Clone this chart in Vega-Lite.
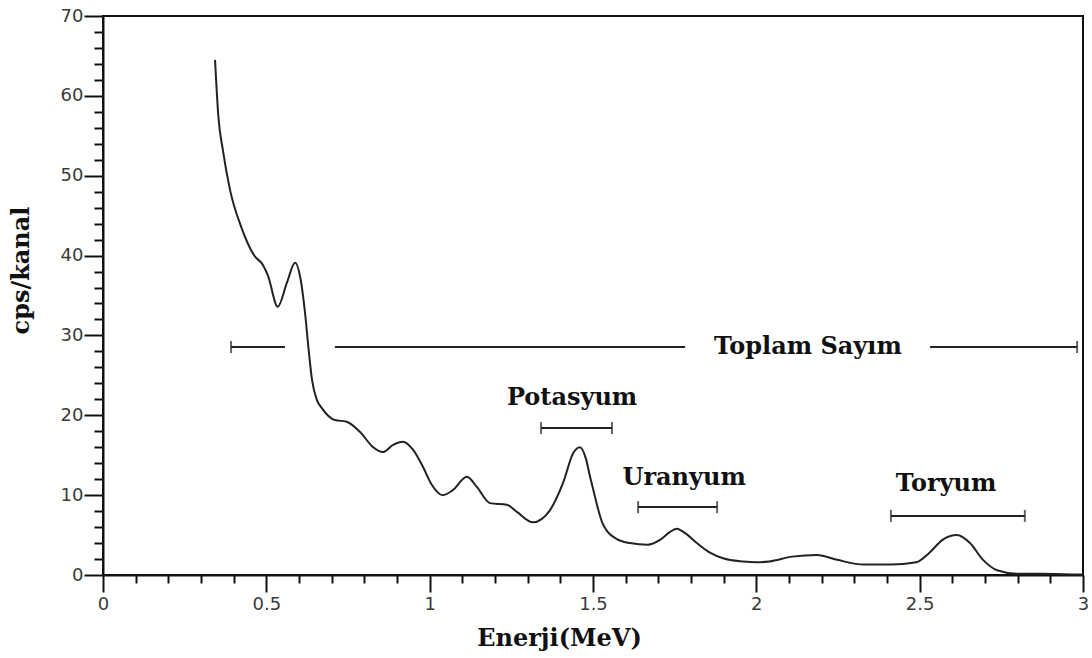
{
  "$schema": "https://vega.github.io/schema/vega-lite/v6.json",
  "width": 980,
  "height": 559,
  "autosize": {"type": "none"},
  "padding": {"left": 103, "top": 16, "right": 9, "bottom": 83},
  "background": "white",
  "config": {
    "view": {"stroke": "#111", "strokeWidth": 2},
    "axis": {
      "domainColor": "#111",
      "domainWidth": 2,
      "tickColor": "#111",
      "tickWidth": 2,
      "grid": false,
      "labelFont": "DejaVu Sans",
      "labelFontSize": 18,
      "labelColor": "#3a3a3a",
      "titleFont": "DejaVu Serif",
      "titleFontWeight": "bold",
      "titleFontSize": 24,
      "titleColor": "#111"
    }
  },
  "datasets": {
    "spectrum": [
      {"E": 0.343, "cps": 64.5}, {"E": 0.353, "cps": 57.5}, {"E": 0.367, "cps": 53.2},
      {"E": 0.389, "cps": 48.2}, {"E": 0.423, "cps": 43.6}, {"E": 0.463, "cps": 40.0},
      {"E": 0.490, "cps": 38.8}, {"E": 0.505, "cps": 37.5}, {"E": 0.535, "cps": 33.6},
      {"E": 0.563, "cps": 36.6}, {"E": 0.588, "cps": 39.1}, {"E": 0.605, "cps": 37.0},
      {"E": 0.618, "cps": 33.0}, {"E": 0.630, "cps": 28.0}, {"E": 0.640, "cps": 24.4},
      {"E": 0.655, "cps": 21.9}, {"E": 0.670, "cps": 20.9}, {"E": 0.710, "cps": 19.4},
      {"E": 0.746, "cps": 19.2}, {"E": 0.787, "cps": 17.9}, {"E": 0.827, "cps": 16.0},
      {"E": 0.857, "cps": 15.4}, {"E": 0.888, "cps": 16.3}, {"E": 0.918, "cps": 16.7},
      {"E": 0.949, "cps": 15.7}, {"E": 0.980, "cps": 13.5}, {"E": 1.005, "cps": 11.4},
      {"E": 1.040, "cps": 10.0}, {"E": 1.070, "cps": 10.6}, {"E": 1.114, "cps": 12.3},
      {"E": 1.145, "cps": 11.0}, {"E": 1.185, "cps": 9.0}, {"E": 1.236, "cps": 8.8},
      {"E": 1.267, "cps": 7.9}, {"E": 1.316, "cps": 6.6}, {"E": 1.368, "cps": 8.1},
      {"E": 1.408, "cps": 11.5}, {"E": 1.440, "cps": 15.3}, {"E": 1.460, "cps": 16.0},
      {"E": 1.478, "cps": 14.6}, {"E": 1.491, "cps": 12.3}, {"E": 1.502, "cps": 10.5},
      {"E": 1.514, "cps": 8.5}, {"E": 1.528, "cps": 6.6}, {"E": 1.545, "cps": 5.4},
      {"E": 1.573, "cps": 4.5},
      {"E": 1.613, "cps": 4.0}, {"E": 1.668, "cps": 3.8}, {"E": 1.705, "cps": 4.4},
      {"E": 1.736, "cps": 5.4}, {"E": 1.757, "cps": 5.8}, {"E": 1.780, "cps": 5.3},
      {"E": 1.818, "cps": 4.0}, {"E": 1.858, "cps": 2.8}, {"E": 1.898, "cps": 2.1},
      {"E": 1.959, "cps": 1.7}, {"E": 2.000, "cps": 1.6},
      {"E": 2.040, "cps": 1.7}, {"E": 2.110, "cps": 2.3}, {"E": 2.186, "cps": 2.5},
      {"E": 2.247, "cps": 1.9}, {"E": 2.330, "cps": 1.3}, {"E": 2.410, "cps": 1.3},
      {"E": 2.490, "cps": 1.6}, {"E": 2.530, "cps": 2.8}, {"E": 2.570, "cps": 4.4},
      {"E": 2.614, "cps": 5.0}, {"E": 2.654, "cps": 4.0}, {"E": 2.694, "cps": 1.9},
      {"E": 2.737, "cps": 0.6}, {"E": 2.800, "cps": 0.15}, {"E": 2.880, "cps": 0.15},
      {"E": 2.940, "cps": 0.1}, {"E": 3.000, "cps": 0.05}
    ],
    "brackets": [
      {"x1": 0.392, "x2": 0.557, "y": 28.55},
      {"x1": 0.710, "x2": 1.782, "y": 28.55},
      {"x1": 2.532, "x2": 2.982, "y": 28.55},
      {"x1": 1.341, "x2": 1.558, "y": 18.4},
      {"x1": 1.638, "x2": 1.880, "y": 8.5},
      {"x1": 2.412, "x2": 2.822, "y": 7.4}
    ],
    "caps": [
      {"x": 0.392, "y": 28.55}, {"x": 2.982, "y": 28.55},
      {"x": 1.341, "y": 18.4}, {"x": 1.558, "y": 18.4},
      {"x": 1.638, "y": 8.5}, {"x": 1.880, "y": 8.5},
      {"x": 2.412, "y": 7.4}, {"x": 2.822, "y": 7.4}
    ],
    "labels": [
      {"x": 2.158, "y": 28.6, "text": "Toplam Sayım"},
      {"x": 1.436, "y": 22.2, "text": "Potasyum"},
      {"x": 1.779, "y": 12.1, "text": "Uranyum"},
      {"x": 2.581, "y": 11.4, "text": "Toryum"}
    ]
  },
  "layer": [
    {
      "data": {"name": "spectrum"},
      "mark": {"type": "line", "interpolate": "monotone", "color": "#222", "strokeWidth": 2},
      "encoding": {
        "x": {
          "field": "E", "type": "quantitative",
          "scale": {"domain": [0, 3], "nice": false, "zero": false},
          "axis": {
            "title": "Enerji(MeV)",
            "titleX": 456,
            "titleY": 70,
            "titleBaseline": "alphabetic",
            "tickCount": 200,
            "values": [0,0.1,0.2,0.3,0.4,0.5,0.6,0.7,0.8,0.9,1,1.1,1.2,1.3,1.4,1.5,1.6,1.7,1.8,1.9,2,2.1,2.2,2.3,2.4,2.5,2.6,2.7,2.8,2.9,3],
            "labelExpr": "round(datum.value*10) % 5 === 0 ? toString(round(datum.value*10)/10) : ''",
            "tickSize": {"condition": {"test": "round(datum.value*10) % 5 === 0", "value": 17}, "value": 8},
            "labelPadding": 3,
            "labelFlush": false,
            "labelOverlap": false
          }
        },
        "y": {
          "field": "cps", "type": "quantitative",
          "scale": {"domain": [0, 70], "nice": false},
          "axis": {
            "title": "cps/kanal",
            "titleX": -75,
            "titleY": 254,
            "titleAngle": -90,
            "titleBaseline": "alphabetic",
            "titleAlign": "center",
            "tickCount": 200,
            "values": [0,2,4,6,8,10,12,14,16,18,20,22,24,26,28,30,32,34,36,38,40,42,44,46,48,50,52,54,56,58,60,62,64,66,68,70],
            "labelExpr": "round(datum.value) % 10 === 0 ? toString(datum.value) : ''",
            "tickSize": {"condition": {"test": "round(datum.value) % 10 === 0", "value": 19}, "value": 9},
            "labelPadding": 1,
            "labelFlush": false,
            "labelOverlap": false
          }
        }
      }
    },
    {
      "data": {"name": "brackets"},
      "mark": {"type": "rule", "color": "#222", "strokeWidth": 2},
      "encoding": {
        "x": {"field": "x1", "type": "quantitative"},
        "x2": {"field": "x2"},
        "y": {"field": "y", "type": "quantitative"}
      }
    },
    {
      "data": {"name": "caps"},
      "mark": {"type": "tick", "orient": "vertical", "color": "#222", "size": 12, "thickness": 2},
      "encoding": {
        "x": {"field": "x", "type": "quantitative"},
        "y": {"field": "y", "type": "quantitative"}
      }
    },
    {
      "data": {"name": "labels"},
      "mark": {"type": "text", "font": "DejaVu Serif", "fontWeight": "bold", "fontSize": 24, "color": "#111", "align": "center", "baseline": "middle"},
      "encoding": {
        "x": {"field": "x", "type": "quantitative"},
        "y": {"field": "y", "type": "quantitative"},
        "text": {"field": "text"}
      }
    }
  ]
}
